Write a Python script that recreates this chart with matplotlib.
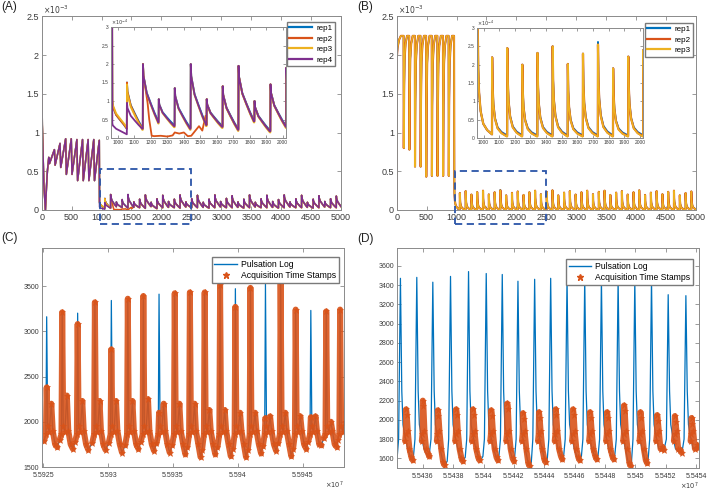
import numpy as np
import matplotlib.pyplot as plt
from matplotlib.patches import Rectangle
from matplotlib.lines import Line2D
from matplotlib.ticker import FuncFormatter

plt.rcParams['font.family'] = ['Liberation Sans', 'DejaVu Sans']

# ---------------- panels A / B : concentration (main x1e-3, inset x1e-4) ----------------
rep_colors = ['#0072BD', '#D95319', '#EDB120', '#7E2F8E']

# dosing phase (x1e-3)
dose_t = [118, 212, 306, 400, 494, 588, 682, 776, 870, 962]
a_start_t = [0, 10, 35, 62, 80, 95]
a_start_v = [1.92, 1.10, 0.35, 0.00, 0.30, 0.50]
a_first_v = [1.97, 1.90, 1.90, 1.90]
a_dose_hi = [0.68, 0.78, 0.86, 0.92, 0.92, 0.91, 0.91, 0.91, 0.91, 0.90]
a_dose_lo = [0.60, 0.58, 0.55, 0.46, 0.46, 0.38, 0.38, 0.38, 0.38]

b_start_t = [0, 1, 15, 40, 70]
b_start_v = [0.00, 1.95, 2.10, 2.20, 2.25]
b_top = 2.25
b_dip_lo = [0.80, 0.78, 0.56, 0.56, 0.43, 0.44, 0.44, 0.44, 0.44]
b_rise_dt = [0, 6, 15, 30, 55]
b_rise_frac = [0.0, 0.5, 0.8, 0.93, 1.0]

# maintenance phase pulses (x1e-4)
pulse_t = [1055, 1152, 1248, 1345, 1442, 1539, 1636, 1732, 1829, 1926,
           2022, 2119, 2216, 2312, 2409, 2506, 2602, 2699, 2796, 2892,
           2989, 3086, 3182, 3279, 3376, 3472, 3569, 3666, 3762, 3859,
           3956, 4052, 4149, 4246, 4342, 4439, 4536, 4632, 4729, 4826, 4922]
a_peak = [1.50, 2.00, 1.05, 1.35, 2.00, 1.05, 1.40, 1.95, 1.00, 1.45,
          1.90, 1.10, 1.40, 1.95, 1.05, 1.45, 1.90, 1.00, 1.40, 1.95,
          1.10, 1.50, 1.85, 1.05, 1.40, 1.95, 1.00, 1.45, 1.90, 1.10,
          1.35, 1.95, 1.05, 1.45, 1.90, 1.00, 1.40, 1.85, 1.10, 1.45, 1.80]
a_lo = [0.25, 0.42, 0.32, 0.25, 0.35, 0.30, 0.22, 0.45, 0.18, 0.30,
        0.35, 0.30, 0.25, 0.40, 0.30, 0.30, 0.35, 0.25, 0.30, 0.40,
        0.30, 0.30, 0.35, 0.25, 0.30, 0.40, 0.30, 0.30, 0.35, 0.25,
        0.30, 0.40, 0.30, 0.30, 0.35, 0.25, 0.30, 0.40, 0.30, 0.30, 0.30]
a_rep_start = [1.00, 1.00, 1.05, 0.40]
a_rep_first_lo = [0.25, 0.25, 0.28, 0.10]
a_rep_first_peak = [1.50, 1.50, 1.45, 0.95]
a_rep_lo_shift = [0.03, 0.00, -0.03, 0.00]
a_decay_dt = [0, 3, 23, 48, 70, 93]
a_decay_frac = [1.0, 0.8, 0.5, 0.31, 0.15, 0.0]
rep2_gap_t = [1180, 1190, 1205, 1220, 1260, 1300, 1332, 1345, 1372, 1400,
              1424, 1445, 1470, 1492, 1512, 1532]
rep2_gap_v = [0.95, 0.50, 0.06, 0.05, 0.06, 0.04, 0.07, 0.15, 0.12, 0.15,
              0.05, 0.06, 0.20, 0.32, 0.20, 0.60]

b_peak = [2.20, 2.45, 2.00, 2.32, 2.50, 2.02, 2.30, 2.55, 1.90, 2.22,
          2.40, 1.95, 2.30, 2.50, 2.05, 2.35, 2.55, 1.90, 2.25, 2.45,
          2.00, 2.30, 2.50, 2.05, 2.35, 2.50, 1.95, 2.25, 2.45, 2.00,
          2.30, 2.55, 1.95, 2.25, 2.45, 2.05, 2.35, 2.50, 1.90, 2.20, 2.40]
b_rep_lo = [0.08, 0.05, 0.04]
b_rep1_peak8 = 2.62
b_start_low = 3.0
b_decay_dt = [0, 3, 8, 18, 35, 60, 93]
b_decay_frac = [1.0, 0.62, 0.4, 0.22, 0.1, 0.04, 0.0]

# ---------------- panels C / D : pulsation log vs acquisition stamps ----------------
c_t = [55925260, 55926460, 55927650, 55928980, 55930250, 55931520, 55932720,
       55933930, 55935140, 55936310, 55937450, 55938640, 55939820, 55940980,
       55942140, 55943310, 55944470, 55945640, 55946830, 55947900]
c_peak = [3160, 3210, 3200, 3320, 3340, 3360, 3390, 3410, 3420, 3430,
          3430, 3510, 3470, 3480, 3520, 3560, 3240, 3230, 3220, 3240]
c_top = [2380, 3210, 3080, 3320, 2800, 3360, 3390, 2100, 3420, 3430,
         3430, 3510, 3270, 3480, 2040, 3560, 3240, 2050, 3220, 3240]
c_wave2 = [2200, 2290, 2230, 2230, 2230, 2230, 2250, 2200, 2200, 2200,
           2130, 2130, 2100, 2100, 2060, 2100, 2060, 2060, 2000, 2000]
c_min = [1720, 1700, 1690, 1690, 1660, 1700, 1680, 1660, 1640, 1610,
         1640, 1620, 1610, 1650, 1680, 1620, 1700, 1740, 1720, 1780]
c_shape_dt = [-200, -60, 0, 80, 200, 360, 470, 650, 820]
c_shape_v = [None, 1860, None, 1950, 1890, None, 1900, 1750, None]

d_t = [55434526, 55435604, 55436660, 55437826, 55439014, 55440180, 55441236,
       55442270, 55443370, 55444426, 55445504, 55446670, 55447770, 55448870,
       55449970, 55451070, 55452170, 55453336]
d_peak = [3470, 3480, 3430, 3490, 3540, 3520, 3510, 3440, 3460, 3470,
          3480, 3470, 3460, 3460, 3450, 3460, 3300, 3290]
d_ot = [55434900, 55436000, 55436990, 55438200, 55439300, 55440510, 55441566,
        55442600, 55443656, 55444756, 55445900, 55447022, 55448144, 55449266,
        55450344, 55451444, 55452610, 55453710]
d_otop = [2110, 2200, 2100, 2110, 2110, 2100, 2170, 2070, 2080, 2110,
          2110, 2080, 2080, 2150, 2080, 2050, 2040, 2020]
d_omin = [1580, 1620, 1530, 1570, 1580, 1580, 1570, 1520, 1560, 1590,
          1580, 1590, 1590, 1520, 1550, 1690, 1660, 1710]
d_shape_dt = [-220, -120, 0, 90, 170, 300, 480, 700, 790]
d_shape_v = [None, 1800, None, 2300, 1950, 1830, 1700, None, None]
d_oshape_dt = [-66, -22, 0, 44, 110, 220, 350, 440]
d_oshape_v = [1780, 1850, None, None, 1880, 1700, None, None]


# ---------------- builders ----------------
def decay_run(ts, vs, t0, t_next, p, q, dt, frac):
    for d, f in zip(dt, frac):
        if t0 + d < t_next - 1:
            ts.append(t0 + d)
            vs.append(q + f * (p - q))
    ts.append(t_next - 1)
    vs.append(q)


def low_phase(t0, start, first_lo, peaks, lows, dt, frac):
    ts, vs = [], []
    decay_run(ts, vs, t0, pulse_t[0], start, first_lo, dt, frac)
    for k, tk in enumerate(pulse_t):
        tn = pulse_t[k + 1] if k + 1 < len(pulse_t) else tk + 97
        decay_run(ts, vs, tk, tn, peaks[k], lows[k], dt, frac)
    return ts, [v * 0.1 for v in vs]


def series_a(r):
    ts = list(a_start_t)
    vs = [a_first_v[r]] + list(a_start_v[1:])
    for k, tk in enumerate(dose_t):
        ts.append(tk)
        vs.append(a_dose_hi[k])
        if k < len(a_dose_lo):
            ts.append(tk + 12)
            vs.append(a_dose_lo[k])
    peaks = [a_rep_first_peak[r]] + a_peak[1:]
    lows = [v + a_rep_lo_shift[r] for v in a_lo]
    lt, lv = low_phase(966, a_rep_start[r], a_rep_first_lo[r], peaks, lows,
                       a_decay_dt, a_decay_frac)
    ts += lt
    vs += lv
    if r == 1:
        keep = [(t, v) for t, v in zip(ts, vs) if not (1170 < t < 1538)]
        keep += [(t, v * 0.1) for t, v in zip(rep2_gap_t, rep2_gap_v)]
        keep.sort()
        ts, vs = [k[0] for k in keep], [k[1] for k in keep]
    return np.array(ts), np.array(vs)


def series_b(r):
    ts = list(b_start_t)
    vs = list(b_start_v)
    for k, tk in enumerate(dose_t[:-1]):
        ts.append(tk - 3)
        vs.append(b_top)
        for d, f in zip(b_rise_dt, b_rise_frac):
            ts.append(tk + d)
            vs.append(b_dip_lo[k] + f * (b_top - b_dip_lo[k]))
    ts.append(dose_t[-1] - 4)
    vs.append(b_top)
    peaks = list(b_peak)
    if r == 0:
        peaks[7] = b_rep1_peak8
    lows = [b_rep_lo[r]] * len(pulse_t)
    lt, lv = low_phase(963, b_start_low, 0.1, peaks, lows, b_decay_dt, b_decay_frac)
    return np.array(ts + lt), np.array(vs + lv)


def beat_c(i, top):
    foot = c_min[i - 1] + 80 if i > 0 else 1790
    fill = [foot, None, top, None, None, c_wave2[i], None, None, c_min[i]]
    xs = [c_t[i] + d for d in c_shape_dt]
    ys = [f if f is not None else s for f, s in zip(fill, c_shape_v)]
    return xs, ys


def beat_d(i):
    foot = d_omin[i - 1] + 40 if i > 0 else 1600
    fill = [foot, None, d_peak[i], None, None, None, None, d_omin[i] + 10, d_omin[i]]
    xs = [d_t[i] + d for d in d_shape_dt]
    ys = [f if f is not None else s for f, s in zip(fill, d_shape_v)]
    return xs, ys


def obeat_d(i):
    top = d_otop[i]
    fill = [None, None, top, top - 60, None, None, d_omin[i] + 30, d_omin[i]]
    xs = [d_ot[i] + d for d in d_oshape_dt]
    ys = [f if f is not None else s for f, s in zip(fill, d_oshape_v)]
    return xs, ys


# ---------------- figure ----------------
W, H = 709, 492
fig = plt.figure(figsize=(W / 100, H / 100), dpi=100)


def px(l, t, r, b):
    return [l / W, 1 - b / H, (r - l) / W, (b - t) / H]


frame_c = '#8a8a8a'
text_c = '#3a3a3a'


def style(ax, fs, pad=2):
    for s in ax.spines.values():
        s.set_color(frame_c)
        s.set_linewidth(0.7)
    ax.tick_params(direction='in', top=True, right=True, length=3, width=0.6,
                   color=frame_c, labelsize=fs, labelcolor=text_c, pad=pad)


g = FuncFormatter(lambda v, p: f"{v:g}")


def main_panel(rect, series, colors, widths, box_top, labels, leg_anchor):
    ax = fig.add_axes(px(*rect))
    for (t, v), c, lw in zip(series, colors, widths):
        ax.plot(t, v, color=c, lw=lw)
    ax.set_xlim(0, 5000)
    ax.set_ylim(0, 2.5)
    ax.set_xticks(np.arange(0, 5001, 500))
    ax.set_yticks(np.arange(0, 2.51, 0.5))
    ax.yaxis.set_major_formatter(g)
    style(ax, 6.5)
    ax.text(0.005, 1.005, r'$\times10^{-3}$', transform=ax.transAxes, fontsize=5.5,
            color=text_c, va='bottom', ha='left')
    ax.add_patch(Rectangle((975, -0.18), 1525, box_top + 0.18, fill=False,
                           ec='#2b55a8', lw=1.3, ls=(0, (4, 2.5)), clip_on=False, zorder=5))
    handles = [Line2D([], [], color=c, lw=1.6) for c in colors]
    ax.legend(handles, labels, loc='upper right', bbox_to_anchor=leg_anchor,
              borderaxespad=0, fontsize=5.8, fancybox=False, framealpha=1,
              edgecolor='#7a7a7a', handlelength=2.8, labelspacing=0.35,
              borderpad=0.35, handletextpad=0.5)
    return ax


def inset(rect, series, colors, widths):
    ax = fig.add_axes(px(*rect))
    for (t, v), c, lw in zip(series, colors, widths):
        ax.plot(t, v * 10, color=c, lw=lw)
    ax.set_xlim(958, 2020)
    ax.set_ylim(0, 3)
    ax.set_xticks(np.arange(1000, 2001, 100))
    ax.set_yticks(np.arange(0, 3.01, 0.5))
    ax.yaxis.set_major_formatter(g)
    style(ax, 3.5)
    ax.tick_params(length=2, pad=1.5)
    ax.text(0.0, 1.0, r'$\times10^{-4}$', transform=ax.transAxes, fontsize=3.5,
            color=text_c, va='bottom', ha='left')
    return ax


sa = [series_a(r) for r in range(4)]
sb = [series_b(r) for r in range(3)]
wa = [1.1, 1.1, 1.1, 1.1]
wb = [1.1, 1.5, 1.0]

main_panel((41.7, 16.5, 341, 210), sa, rep_colors, wa, 0.53,
           ['rep1', 'rep2', 'rep3', 'rep4'], (0.98, 0.973))
inset((111, 27, 286, 138), sa, rep_colors, [1.3] * 4)
main_panel((396.7, 16.5, 696, 210), sb, rep_colors[:3], wb, 0.50,
           ['rep1', 'rep2', 'rep3'], (0.99, 0.968))
inset((477, 28, 643, 138), sb, rep_colors[:3], [1.3, 1.6, 1.2])

# panel C
axC = fig.add_axes(px(42, 248, 344, 467))
bx, by = [55924900], [1800]
ox, oy = [], []
for i in range(len(c_t)):
    xs, ys = beat_c(i, c_peak[i])
    bx += xs
    by += ys
    xs, ys = beat_c(i, c_top[i])
    ox += xs + [np.nan]
    oy += ys + [np.nan]
axC.plot(bx, by, color='#0072BD', lw=0.9)
axC.plot(ox, oy, color='#D95319', lw=4.3, alpha=0.9, solid_capstyle='round',
         marker='*', ms=5, mew=0.5)
axC.set_xlim(55924900, 55948200)
axC.set_ylim(1500, 3920)
axC.set_xticks(np.arange(55925000, 55948000, 5000))
axC.set_yticks(np.arange(1500, 3501, 500))

# panel D
axD = fig.add_axes(px(397, 248, 699, 468))
bx, by, ox, oy = [], [], [], []
for i in range(len(d_t)):
    xs, ys = beat_d(i)
    bx += xs
    by += ys
    xs, ys = obeat_d(i)
    ox += xs + [np.nan]
    oy += ys + [np.nan]
axD.plot(bx, by, color='#0072BD', lw=0.9)
axD.plot(ox, oy, color='#D95319', lw=4.3, alpha=0.9, solid_capstyle='round',
         marker='*', ms=5, mew=0.5)
axD.set_xlim(55434300, 55454200)
axD.set_ylim(1500, 3785)
axD.set_xticks(np.arange(55436000, 55454001, 2000))
axD.set_yticks(np.arange(1600, 3601, 200))

fx = FuncFormatter(lambda v, p: f"{v / 1e7:g}")
for ax, anchor in ((axC, (0.983, 0.959)), (axD, (0.980, 0.95))):
    ax.xaxis.set_major_formatter(fx)
    style(ax, 5)
    ax.tick_params(axis='x', pad=3.5)
    ax.text(1.0, -0.058, r'$\times10^{7}$', transform=ax.transAxes, fontsize=4.8,
            color=text_c, ha='right', va='top')
    handles = [Line2D([], [], color='#0072BD', lw=1.0),
               Line2D([], [], color='#D95319', ls='none', marker='*', ms=5)]
    ax.legend(handles, ['Pulsation Log', 'Acquisition Time Stamps'], loc='upper right',
              bbox_to_anchor=anchor, borderaxespad=0, fontsize=6.2, fancybox=False,
              framealpha=1, edgecolor='#7a7a7a', handlelength=2.6, labelspacing=0.3,
              borderpad=0.3, handletextpad=0.5)

for s, x, y in (('(A)', 1, 1), ('(B)', 357, 1), ('(C)', 1, 232), ('(D)', 357, 233)):
    fig.text(x / W, 1 - y / H, s, fontsize=8.5, color='#222222', ha='left', va='top')

fig.savefig('out.png', dpi=100)
